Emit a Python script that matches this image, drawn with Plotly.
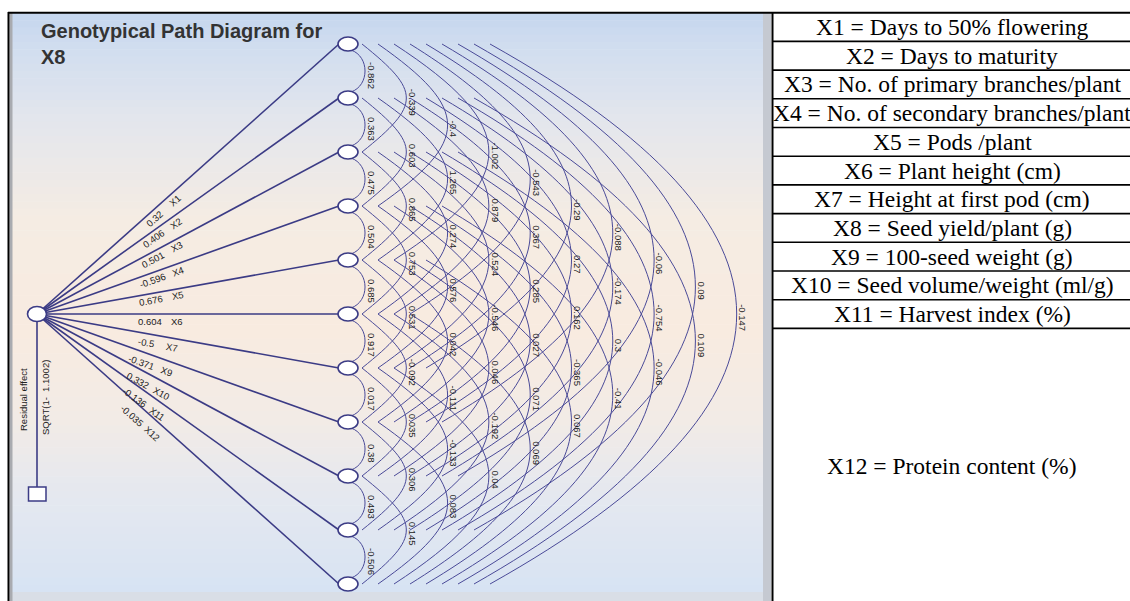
import math
import plotly.graph_objects as go

# ---------------- data ----------------
title_lines = ["Genotypical Path Diagram for", "X8"]
node_names = ["X1", "X2", "X3", "X4", "X5", "X6", "X7", "X9", "X10", "X11", "X12"]
direct_effects = [0.32, 0.406, 0.501, -0.596, 0.676, 0.604, -0.5, -0.371, 0.332, -0.136, -0.035]
# correlations between node i and node i+k (columns of arcs, top to bottom)
corr_k1 = [-0.862, 0.363, 0.475, 0.504, 0.685, 0.917, 0.017, 0.38, 0.493, -0.506]
corr_k2 = [-0.339, 0.603, 0.865, 0.753, 0.531, -0.092, 0.035, 0.306, 0.145]
corr_k3 = [-0.4, 1.265, 0.274, 0.576, 0.042, -0.111, -0.133, 0.083]
corr_k4 = [-1.002, 0.879, 0.524, -0.546, 0.046, -0.192, 0.04]
corr_k5 = [-0.543, 0.367, 0.285, 0.027, 0.071, 0.069]
corr_k6 = [-0.29, 0.27, 0.162, -0.365, 0.067]
corr_k7 = [-0.088, -0.174, 0.3, -0.41]
corr_k8 = [-0.06, -0.754, -0.046]
corr_k9 = [0.09, 0.109]
corr_k10 = [-0.147]
residual_label = "Residual effect"
residual_value = "SQRT(1-  1.1002)"
table_labels = [
    "X1 = Days to 50% flowering",
    "X2 = Days to maturity",
    "X3 = No. of primary branches/plant",
    "X4 = No. of secondary branches/plant",
    "X5 = Pods /plant",
    "X6 = Plant height (cm)",
    "X7 = Height at first pod (cm)",
    "X8 = Seed yield/plant (g)",
    "X9 = 100-seed weight (g)",
    "X10 = Seed volume/weight (ml/g)",
    "X11 = Harvest index (%)",
    "X12 = Protein content (%)",
]
corr_columns = [corr_k1, corr_k2, corr_k3, corr_k4, corr_k5,
                corr_k6, corr_k7, corr_k8, corr_k9, corr_k10]

# ---------------- layout constants ----------------
W, H = 1130, 601
NODE_X, NODE_Y0, NODE_DY = 348, 44, 54
ROOT_X, ROOT_Y = 37, 314
LINE_C = "#3b3b85"
ARC_C = "#4a4a98"
TXT_C = "#222222"

shapes = []
annotations = []


def hex2rgb(h):
    h = h.lstrip("#")
    return [int(h[i:i + 2], 16) for i in (0, 2, 4)]


# background gradient of the diagram panel
stops = [(13, "#c4d5ee"), (45, "#d0ddef"), (120, "#e3e6ed"), (220, "#f5ece3"),
         (330, "#f8ebe0"), (420, "#f2ebe6"), (500, "#e4e8f0"), (592, "#d7e3f3")]
PX0, PX1 = 12, 769
nb = 80
for b in range(nb):
    y0 = 13 + (592 - 13) * b / nb
    y1 = 13 + (592 - 13) * (b + 1) / nb + 0.6
    ym = (y0 + y1) / 2
    for s in range(len(stops) - 1):
        if stops[s][0] <= ym <= stops[s + 1][0]:
            f = (ym - stops[s][0]) / (stops[s + 1][0] - stops[s][0])
            c0, c1 = hex2rgb(stops[s][1]), hex2rgb(stops[s + 1][1])
            c = [round(c0[i] + (c1[i] - c0[i]) * f) for i in range(3)]
            break
    shapes.append(dict(type="rect", xref="x", yref="y", x0=PX0, x1=PX1, y0=y0, y1=y1,
                       fillcolor="rgb(%d,%d,%d)" % tuple(c), line=dict(width=0), layer="below"))
# bottom bevel
shapes.append(dict(type="rect", xref="x", yref="y", x0=PX0, x1=PX1, y0=592, y1=601,
                   fillcolor="#d9dee6", line=dict(width=0), layer="below"))
# left frame
shapes.append(dict(type="rect", xref="x", yref="y", x0=9.5, x1=12.5, y0=13, y1=601,
                   fillcolor="#a9abb0", line=dict(width=0), layer="below"))
shapes.append(dict(type="line", xref="x", yref="y", x0=8.5, x1=8.5, y0=12, y1=601,
                   line=dict(color="#000000", width=2), layer="below"))
# right frame of panel
shapes.append(dict(type="rect", xref="x", yref="y", x0=763, x1=771, y0=13, y1=601,
                   fillcolor="#c5c9d1", line=dict(width=0), layer="below"))

# ---------------- table ----------------
TX0 = 772.5
ROW_T, ROW_H = 12.7, 28.7
shapes.append(dict(type="line", xref="x", yref="y", x0=8, x1=W + 5, y0=ROW_T, y1=ROW_T,
                   line=dict(color="#000000", width=2)))
shapes.append(dict(type="line", xref="x", yref="y", x0=TX0, x1=TX0, y0=ROW_T, y1=H + 5,
                   line=dict(color="#000000", width=2)))
for r in range(len(table_labels)):
    top = ROW_T + r * ROW_H
    if r < len(table_labels) - 1:
        bot = top + ROW_H
        shapes.append(dict(type="line", xref="x", yref="y", x0=TX0, x1=W + 5, y0=bot, y1=bot,
                           line=dict(color="#000000", width=1.6)))
        yc = (top + bot) / 2
    else:
        yc = (top + H) / 2 + 1
    annotations.append(dict(x=952, y=yc, xref="x", yref="y", text=table_labels[r],
                            showarrow=False, xanchor="center", yanchor="middle",
                            font=dict(family="Liberation Serif", size=23.5, color="#000000")))

# ---------------- diagram ----------------
n = len(node_names)
node_y = [NODE_Y0 + NODE_DY * i for i in range(n)]

# arcs between nodes (correlations)
for k, col in enumerate(corr_columns, start=1):
    for i, val in enumerate(col):
        yi, yj = node_y[i], node_y[i + k]
        xp = 323.7 + 41.3 * k
        if k == 1:
            xs, y0, y1 = 351, yi + 6, yj - 6
            a = (xp - xs) / 0.75
            b = 0.35 * a
        else:
            xs, y0, y1 = 330 + 16 * k, yi, yj
            a = (xp - xs) / 0.75
            b = min((0.5 + 0.6 / k) * a, 0.45 * (y1 - y0))
        path = "M %.1f,%.1f C %.1f,%.1f %.1f,%.1f %.1f,%.1f" % (
            xs, y0, xs + a, y0 + b, xs + a, y1 - b, xs, y1)
        shapes.append(dict(type="path", xref="x", yref="y", path=path,
                           line=dict(color=ARC_C, width=1)))
        annotations.append(dict(x=372 + 41.2 * (k - 1), y=(yi + yj) / 2 + 4, xref="x", yref="y",
                                text=str(val), textangle=90, showarrow=False,
                                xanchor="center", yanchor="middle",
                                font=dict(family="Liberation Sans", size=9.5, color=TXT_C)))

# fan lines from the dependent node
for i in range(n):
    yi = node_y[i]
    shapes.append(dict(type="line", xref="x", yref="y", x0=ROOT_X, y0=ROOT_Y, x1=NODE_X - 9, y1=yi,
                       line=dict(color=LINE_C, width=1.6)))
    th = math.atan2(yi - ROOT_Y, NODE_X - 9 - ROOT_X)
    s = math.sin(th)
    xn = 150 - 15 * max(0.0, s)
    yn = ROOT_Y + (xn - ROOT_X) * math.tan(th)
    d = 7 if s <= 0 else 8 + 6 * s
    px, py = xn - d * s, yn + d * math.cos(th)
    annotations.append(dict(x=px, y=py, xref="x", yref="y", text=str(direct_effects[i]),
                            textangle=math.degrees(th), showarrow=False,
                            xanchor="center", yanchor="middle",
                            font=dict(family="Liberation Sans", size=9.5, color=TXT_C)))
    qx, qy = px + 27 * math.cos(th), py + 27 * s
    annotations.append(dict(x=qx, y=qy, xref="x", yref="y", text=node_names[i],
                            textangle=math.degrees(th), showarrow=False,
                            xanchor="center", yanchor="middle",
                            font=dict(family="Liberation Sans", size=9.5, color=TXT_C)))

# residual
shapes.append(dict(type="line", xref="x", yref="y", x0=ROOT_X, y0=ROOT_Y, x1=ROOT_X, y1=487,
                   line=dict(color=LINE_C, width=1.6)))
shapes.append(dict(type="rect", xref="x", yref="y", x0=28.5, x1=46, y0=487, y1=501,
                   fillcolor="white", line=dict(color=LINE_C, width=1.5)))
annotations.append(dict(x=23, y=400, xref="x", yref="y", text=residual_label, textangle=-90,
                        showarrow=False, xanchor="center", yanchor="middle",
                        font=dict(family="Liberation Sans", size=9.5, color=TXT_C)))
annotations.append(dict(x=45, y=398, xref="x", yref="y", text=residual_value, textangle=-90,
                        showarrow=False, xanchor="center", yanchor="middle",
                        font=dict(family="Liberation Sans", size=9.5, color=TXT_C)))

# nodes
for i in range(n):
    shapes.append(dict(type="circle", xref="x", yref="y", x0=NODE_X - 10, x1=NODE_X + 10,
                       y0=node_y[i] - 7, y1=node_y[i] + 7, fillcolor="white",
                       line=dict(color=LINE_C, width=1.6)))
shapes.append(dict(type="circle", xref="x", yref="y", x0=ROOT_X - 9.5, x1=ROOT_X + 9.5,
                   y0=ROOT_Y - 7.5, y1=ROOT_Y + 7.5, fillcolor="white",
                   line=dict(color=LINE_C, width=1.6)))

# title
for li, t in enumerate(title_lines):
    annotations.append(dict(x=39, y=31 + 26 * li, xref="x", yref="y", text="<b>%s</b>" % t,
                            showarrow=False, xanchor="left", yanchor="middle",
                            font=dict(family="Liberation Sans", size=20, color="#333333")))

fig = go.Figure()
fig.add_trace(go.Scatter(x=[ROOT_X], y=[ROOT_Y], mode="markers",
                         marker=dict(size=1, color="rgba(0,0,0,0)"), hoverinfo="skip",
                         showlegend=False))
fig.update_layout(
    width=W, height=H, autosize=False,
    margin=dict(l=0, r=0, t=0, b=0, pad=0),
    paper_bgcolor="white", plot_bgcolor="white",
    xaxis=dict(range=[0, W], visible=False, fixedrange=True),
    yaxis=dict(range=[H, 0], visible=False, fixedrange=True),
    shapes=shapes, annotations=annotations, showlegend=False,
)
fig.write_html("out.html", config={"displayModeBar": False},
               post_script="document.body.style.margin='0';document.body.style.overflow='hidden';")
